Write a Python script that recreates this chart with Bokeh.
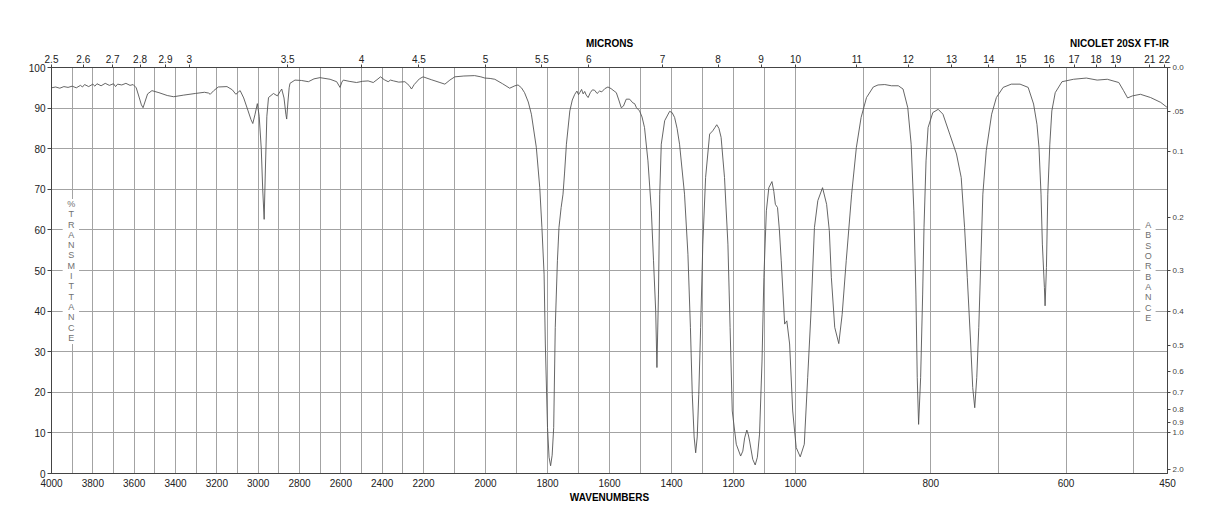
import numpy as np
from bokeh.plotting import figure
from bokeh.models import (Range1d, LinearAxis, FixedTicker, CustomJSTickFormatter,
                          ColumnDataSource)
from bokeh.core.properties import value
from bokeh.embed import file_html
from bokeh.resources import INLINE

# ---------------- data ----------------
wavenumber = [
    4000, 3980, 3960, 3940, 3920, 3900, 3880, 3860, 3850, 3840, 3820, 3800, 3790, 3780,
    3760, 3740, 3720, 3700, 3690, 3680, 3660, 3640, 3620, 3605, 3590, 3575, 3565, 3557,
    3548, 3535, 3514, 3480, 3440, 3409, 3360, 3304, 3260, 3240, 3232, 3215, 3193, 3151,
    3125, 3108, 3095, 3087, 3070, 3050, 3035, 3026, 3015, 3004, 2995, 2985, 2978, 2971,
    2965, 2958, 2950, 2926, 2907, 2895, 2886, 2875, 2866, 2862, 2856, 2850, 2846, 2822,
    2790, 2757, 2730, 2701, 2652, 2620, 2604, 2595, 2588, 2560, 2524, 2495, 2468, 2443,
    2425, 2408, 2390, 2371, 2360, 2345, 2320, 2290, 2270, 2258, 2245, 2220, 2202, 2175,
    2147, 2131, 2115, 2099, 2070, 2035, 2015, 2002, 1985, 1970, 1945, 1922, 1905, 1895,
    1884, 1874, 1862, 1852, 1836, 1825, 1818, 1811, 1807, 1800, 1795, 1790, 1785, 1780,
    1775, 1768, 1763, 1756, 1750, 1745, 1739, 1728, 1720, 1712, 1705, 1700, 1696, 1690,
    1685, 1680, 1675, 1669, 1662, 1655, 1648, 1640, 1632, 1625, 1615, 1605, 1595, 1585,
    1578, 1570, 1562, 1555, 1546, 1535, 1525, 1519, 1513, 1503, 1495, 1487, 1476, 1465,
    1458, 1451, 1447, 1442, 1438, 1433, 1422, 1406, 1398, 1390, 1382, 1374, 1358, 1347,
    1339, 1333, 1327, 1322, 1317, 1312, 1306, 1299, 1290, 1277, 1267, 1260, 1254, 1247,
    1240, 1229, 1218, 1211, 1204, 1191, 1177, 1170, 1164, 1157, 1152, 1148, 1138, 1130,
    1123, 1116, 1108, 1102, 1094, 1086, 1076, 1070, 1065, 1058, 1052, 1046, 1035, 1028,
    1019, 1009, 999, 993, 987, 982, 977, 972, 967, 960, 954, 950, 947, 942, 936, 931,
    925, 917, 910, 903, 895, 885, 878, 868, 858, 848, 841, 834, 829, 825, 822, 820, 818,
    815, 812, 810, 807, 804, 797, 789, 782, 772, 762, 755, 750, 746, 741, 738, 735, 732,
    729, 726, 723, 718, 710, 703, 693, 681, 668, 656, 648, 643, 640, 637, 635, 632, 631,
    629, 627, 624, 621, 616, 606, 589, 570, 554, 539, 522, 515, 509, 502, 490, 475, 460,
    450,
]
transmittance = [
    95.0, 95.2, 94.9, 95.3, 95.1, 95.4, 95.0, 95.6, 95.2, 95.8, 95.3, 95.9, 95.4, 96.0,
    95.5, 96.1, 95.6, 96.0, 95.3, 95.9, 95.7, 96.1, 95.6, 95.8, 95.0, 92.5, 90.8, 90.1,
    91.5, 93.5, 94.3, 93.8, 93.1, 92.8, 93.2, 93.6, 93.9, 93.7, 93.4, 94.3, 95.2, 95.3,
    94.5, 93.4, 94.0, 94.3, 92.5, 89.5, 87.2, 86.2, 88.5, 91.1, 88.0, 80.0, 70.0, 62.6,
    75.0, 88.0, 92.6, 93.6, 93.0, 94.0, 94.7, 92.5, 88.5, 87.3, 91.5, 95.0, 96.1, 96.9,
    96.8, 96.5, 97.2, 97.5, 97.1, 96.5, 95.1, 96.4, 96.9, 96.6, 96.3, 96.6, 96.7, 96.3,
    97.0, 97.7, 97.0, 96.5, 96.9, 96.7, 96.4, 96.5, 95.6, 94.7, 95.8, 97.2, 97.7, 97.0,
    96.3, 95.9, 96.9, 97.7, 97.9, 98.0, 97.7, 97.4, 97.3, 97.1, 96.0, 94.9, 95.5, 95.7,
    95.0, 93.8, 91.5, 88.5, 80.3, 70.4, 60.6, 49.1, 31.9, 11.3, 4.0, 1.9, 4.5, 11.3,
    36.0, 52.4, 60.6, 65.5, 68.8, 74.0, 81.1, 89.3, 92.0, 93.4, 94.2, 93.3, 93.8, 94.6,
    93.5, 94.1, 93.2, 92.6, 93.8, 94.5, 94.4, 93.6, 94.2, 94.0, 94.8, 95.2, 94.8, 94.2,
    93.8, 92.0, 90.1, 90.5, 92.2, 92.2, 91.3, 91.1, 90.1, 89.3, 87.8, 85.2, 77.0, 64.7,
    52.4, 40.0, 26.1, 44.2, 68.8, 81.1, 86.9, 89.2, 88.9, 87.7, 85.0, 81.1, 68.8, 54.0,
    36.0, 19.5, 9.0, 5.1, 9.0, 19.5, 36.0, 56.5, 72.9, 83.6, 84.4, 85.2, 85.9, 85.0,
    82.8, 72.9, 56.5, 36.0, 15.4, 7.2, 4.3, 5.5, 8.8, 10.7, 9.5, 8.0, 3.5, 2.1,
    4.0, 9.7, 27.7, 48.3, 64.7, 70.4, 71.9, 69.5, 66.3, 65.5, 60.0, 52.4, 36.8, 37.6,
    31.9, 15.4, 6.4, 4.1, 7.2, 23.6, 40.0, 60.6, 67.2, 70.4, 66.3, 59.8, 48.3, 36.0, 32.0, 39.2,
    52.4, 68.8, 80.3, 87.7, 92.6, 95.2, 95.7, 95.8, 95.5, 95.5, 94.7, 90.1, 81.1, 64.7, 44.2, 23.6, 12.1,
    23.6, 44.2, 60.6, 77.0, 85.2, 88.9, 89.7, 88.5, 83.6, 78.7, 72.9, 60.6, 48.3, 31.9, 21.2, 16.2, 23.6,
    36.0, 52.4, 68.8, 79.5, 88.5, 92.6, 95.1, 95.9, 95.9, 95.1, 91.0, 86.0, 80.3, 68.8, 56.5, 45.8, 41.3,
    50.7, 68.8, 81.1, 89.3, 93.8, 96.5, 97.1, 97.4, 96.9, 97.1, 96.3, 94.3, 92.5, 93.0, 93.4, 92.6, 91.4,
    90.1,
]

wavenumber_ticks = [4000, 3800, 3600, 3400, 3200, 3000, 2800, 2600, 2400, 2200,
                    2000, 1800, 1600, 1400, 1200, 1000, 800, 600, 450]
grid_wavenumbers = (list(range(3900, 2200, -100)) + list(range(2200, 1000, -100))
                    + list(range(1000, 450, -100)))
micron_ticks = [2.5, 2.6, 2.7, 2.8, 2.9, 3, 3.5, 4, 4.5, 5, 5.5, 6, 7, 8, 9, 10,
                11, 12, 13, 14, 15, 16, 17, 18, 19, 21, 22]
transmittance_ticks = [0, 10, 20, 30, 40, 50, 60, 70, 80, 90, 100]
absorbance_ticks = [0.0, 0.05, 0.1, 0.2, 0.3, 0.4, 0.5, 0.6, 0.7, 0.8, 0.9, 1.0, 2.0]
header_texts = ["MICRONS", "NICOLET 20SX FT-IR"]
left_caption = "%TRANSMITTANCE"
right_caption = "ABSORBANCE"

# chart x scale: three equal-width linear panels 4000-2200, 2200-1000, 1000-450
BREAK_WN = [450, 1000, 2200, 4000]
BREAK_POS = [3, 2, 1, 0]


def chart_x(wn):
    return np.interp(np.asarray(wn, dtype=float), BREAK_WN, BREAK_POS)


WN_JS = """
let wn;
if (tick <= 1) { wn = 4000 - 1800 * tick; }
else if (tick <= 2) { wn = 2200 - 1200 * (tick - 1); }
else { wn = 1000 - 550 * (tick - 2); }
"""

FONT = "Liberation Sans"
AXIS_COL = "#444444"
TEXT_COL = "#222222"

source = ColumnDataSource(data=dict(x=chart_x(wavenumber), t=transmittance))

p = figure(width=1218, height=528, output_backend="svg", toolbar_location=None,
           x_range=Range1d(0, 3), y_range=Range1d(0, 100),
           min_border_left=51, min_border_right=51, min_border_top=67, min_border_bottom=55)
p.background_fill_color = "white"
p.border_fill_color = "white"
p.outline_line_color = AXIS_COL

# grids
p.xgrid.ticker = FixedTicker(ticks=list(chart_x(grid_wavenumbers)))
p.ygrid.ticker = FixedTicker(ticks=transmittance_ticks[1:-1])
p.xgrid.grid_line_color = "#a3a3a3"
p.ygrid.grid_line_color = "#a3a3a3"
p.xgrid.grid_line_width = 1
p.ygrid.grid_line_width = 1

# bottom axis (wavenumbers)
xa = p.xaxis[0]
xa.ticker = FixedTicker(ticks=list(chart_x(wavenumber_ticks)), minor_ticks=[])
xa.formatter = CustomJSTickFormatter(code=WN_JS + "return Math.round(wn).toString();")
xa.major_tick_in = 0
xa.major_tick_out = 0
xa.minor_tick_out = 0
xa.major_label_standoff = 5
xa.axis_label = "WAVENUMBERS"
xa.axis_label_standoff = 2
xa.axis_label_text_font = FONT
xa.axis_label_text_font_size = "10px"
xa.axis_label_text_font_style = "bold"
xa.axis_label_text_color = "black"

# left axis (% transmittance)
ya = p.yaxis[0]
ya.ticker = FixedTicker(ticks=transmittance_ticks, minor_ticks=[])
ya.major_tick_in = 0
ya.major_tick_out = 4
ya.minor_tick_out = 0
ya.major_label_standoff = 2

# top axis (microns)
ta = LinearAxis(ticker=FixedTicker(ticks=list(chart_x(10000.0 / np.array(micron_ticks))), minor_ticks=[]),
                formatter=CustomJSTickFormatter(code=WN_JS + "const um = 10000 / wn; return String(Math.round(um * 10) / 10);"))
ta.major_tick_in = 0
ta.major_tick_out = 3
ta.minor_tick_out = 0
ta.major_label_standoff = 2
p.add_layout(ta, "above")

# header line above the micron scale: "MICRONS" centred, instrument name at right
ha = LinearAxis(ticker=FixedTicker(ticks=[1.5, 2.871], minor_ticks=[]),
                formatter=CustomJSTickFormatter(args=dict(names=header_texts),
                                                code="return names[index];"))
ha.axis_line_color = None
ha.major_tick_line_color = None
ha.major_tick_in = 0
ha.major_tick_out = 0
ha.minor_tick_out = 0
ha.major_label_standoff = 3
ha.major_label_text_font = FONT
ha.major_label_text_font_size = "10px"
ha.major_label_text_font_style = "bold"
ha.major_label_text_color = "black"
p.add_layout(ha, "above")

# right axis (absorbance)
ra = LinearAxis(ticker=FixedTicker(ticks=[100.0 * 10 ** (-a) for a in absorbance_ticks], minor_ticks=[]),
                formatter=CustomJSTickFormatter(code="""
let A = Math.abs(-Math.log10(tick / 100));
if (Math.abs(A - 0.05) < 1e-3) { return '.05'; }
return A.toFixed(1);
"""))
ra.major_tick_in = 0
ra.major_tick_out = 3
ra.minor_tick_out = 0
ra.major_label_standoff = 2
p.add_layout(ra, "right")

for ax in (xa, ya, ta, ra):
    ax.axis_line_color = AXIS_COL
    ax.major_tick_line_color = AXIS_COL
    ax.major_label_text_font = FONT
    ax.major_label_text_color = TEXT_COL
    ax.major_label_text_font_size = "10px"
ra.major_label_text_font_size = "8px"
ra.major_label_text_color = "#444444"

# spectrum
p.line("x", "t", source=source, line_color="#555555", line_width=0.9)

# vertical side captions: white backing strip (hides the grid) + stacked letters
p.quad(left=[0.030, 2.927], right=[0.074, 2.968], bottom=[31.9, 37.1], top=[67.6, 62.2],
       fill_color="white", fill_alpha=1.0, line_color=None)

cap_x = [0.053] * len(left_caption) + [2.948] * len(right_caption)
cap_y = ([66.4 - 2.54 * i for i in range(len(left_caption))]
         + [61.2 - 2.54 * i for i in range(len(right_caption))])
cap_txt = list(left_caption) + list(right_caption)
p.text(x=cap_x, y=cap_y, text=cap_txt, text_align="center", text_baseline="middle",
       text_font=value(FONT), text_font_size="9px", text_color="#707070")

open("out.html", "w").write(file_html(p, INLINE))
